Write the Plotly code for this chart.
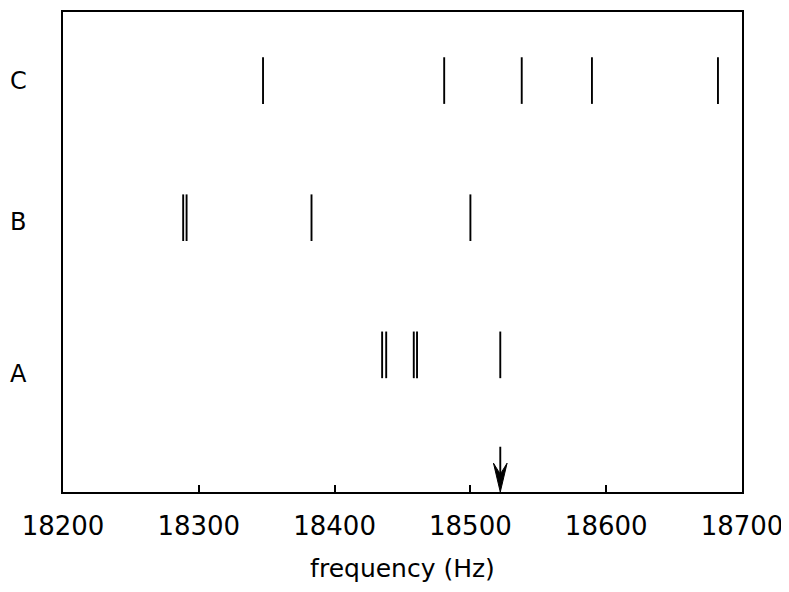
import plotly.graph_objects as go

# Data
categories = ["A", "B", "C"]
freq_A = [18435.0, 18438.0, 18458.3, 18460.7, 18522.0]
freq_B = [18288.5, 18291.0, 18383.0, 18500.0]
freq_C = [18347.3, 18480.7, 18537.8, 18589.5, 18682.3]
arrow_freq = 18522.0
x_ticks = [18200, 18300, 18400, 18500, 18600, 18700]
x_tick_labels = ["18200", "18300", "18400", "18500", "18600", "18700"]

series = {"A": freq_A, "B": freq_B, "C": freq_C}
row_pos = {"A": 1.0, "B": 2.0, "C": 3.0}
label_pos = {"A": 0.86, "B": 1.97, "C": 3.0}
half = 0.17

fig = go.Figure()
for cat in categories:
    xs, ys = [], []
    for f in series[cat]:
        xs += [f, f, None]
        ys += [row_pos[cat] - half, row_pos[cat] + half, None]
    fig.add_trace(go.Scatter(x=xs, y=ys, mode="lines",
                             line=dict(color="black", width=1.9),
                             showlegend=False, hoverinfo="skip"))

# arrow marking the frequency: shaft + barbed head
fig.add_trace(go.Scatter(x=[arrow_freq, arrow_freq], y=[0.12, 0.33], mode="lines",
                         line=dict(color="black", width=1.9),
                         showlegend=False, hoverinfo="skip"))
hw = 5.0
fig.add_shape(type="path",
              path=(f"M {arrow_freq} 0 L {arrow_freq - hw} 0.21 "
                    f"L {arrow_freq} 0.13 L {arrow_freq + hw} 0.21 Z"),
              xref="x", yref="y", fillcolor="black", line=dict(color="black", width=1))

for cat in categories:
    fig.add_annotation(x=0, y=label_pos[cat], xref="paper", yref="y",
                       text=cat, showarrow=False, xanchor="center",
                       yanchor="middle", xshift=-45,
                       font=dict(family="DejaVu Sans", size=24, color="black"))

fig.update_xaxes(range=[18200, 18700], tickvals=x_ticks, ticktext=x_tick_labels,
                 ticks="inside", ticklen=7, tickwidth=1.5, tickcolor="black",
                 showline=True, linecolor="black", linewidth=2.2, mirror=True,
                 showgrid=False, zeroline=False, ticklabelstandoff=10,
                 tickfont=dict(family="DejaVu Sans", size=26, color="black"),
                 title=dict(text="frequency (Hz)", standoff=19,
                            font=dict(family="DejaVu Sans", size=25, color="black")))
fig.update_yaxes(range=[0, 3.5], showticklabels=False, ticks="",
                 showline=True, linecolor="black", linewidth=2.2, mirror=True,
                 showgrid=False, zeroline=False)

fig.update_layout(width=781, height=576,
                  margin=dict(l=55, r=47, t=2, b=92),
                  plot_bgcolor="white", paper_bgcolor="white")

fig.write_html("out.html")
